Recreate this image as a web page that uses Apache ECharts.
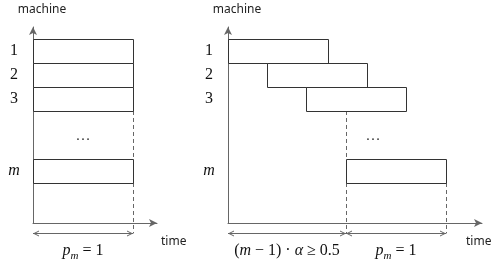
<!DOCTYPE html>
<html>
<head>
<meta charset="utf-8">
<title>schedule</title>
<script src="https://cdn.jsdelivr.net/npm/echarts@6/dist/echarts.min.js"></script>
<style>
  html, body { margin: 0; padding: 0; background: #fff; }
</style>
</head>
<body>
<div id="main" style="width: 491px;height:267px;"></div>
<script type="text/javascript">
// machines and lanes (row m sits at lane 0, rows 1..3 on top)
var machines = ['1', '2', '3', 'm'];
var lanes = [5, 4, 3, 0];
var jobLength = 1;
// start times of the job on each machine
var leftStart = [0, 0, 0, 0];
var rightStart = [0, 0.39, 0.78, 1.18];
// dashed guides: [x, yFrom, yTo]
var leftDash = [[1, 3, 1], [1, 0, -2.1]];
var rightDash = [[1.18, 3, 1], [1.18, 0, -2.1], [2.18, 0, -2.1]];
// double arrows below the time axis: [from, to]
var leftSpans = [[0, 1]];
var rightSpans = [[0, 1.18], [1.18, 2.18]];
var leftSpanText = ['{i|p}{s|m}{n| = 1}'];
var rightSpanText = ['{n|(}{i|m}{n| − 1) · }{i|α}{n| ≥ 0.5}', '{i|p}{s|m}{n| = 1}'];
var leftDots = [[0.5, 1.95]];
var rightDots = [[1.45, 1.95]];
var arrowY = -2.08;

var serif = 'Liberation Serif';
var richMath = {
    n: { fontFamily: serif, fontSize: 16, fill: '#111', padding: [0, 0, 5, 0] },
    i: { fontFamily: serif, fontSize: 16, fontStyle: 'italic', fill: '#111', padding: [0, 0, 5, 0] },
    s: { fontFamily: serif, fontSize: 11, fontStyle: 'italic', fill: '#111', padding: [5, 0, 0, 0] }
};
var richLabel = {
    n: { fontFamily: serif, fontSize: 16, fill: '#111' },
    i: { fontFamily: serif, fontSize: 16, fontStyle: 'italic', fill: '#111' }
};

function jobData(starts) {
    var d = [];
    for (var i = 0; i < starts.length; i++) {
        d.push([starts[i], lanes[i], starts[i] + jobLength]);
    }
    return d;
}

function renderJob(params, api) {
    var lane = api.value(1);
    var p0 = api.coord([api.value(0), lane + 1]);
    var p1 = api.coord([api.value(2), lane]);
    var lab = api.coord([0, lane + 0.5]);
    var name = machines[params.dataIndex];
    var x0 = Math.round(p0[0]) + 0.5, y0 = Math.round(p0[1]) + 0.5;
    var x1 = Math.round(p1[0]) + 0.5, y1 = Math.round(p1[1]) + 0.5;
    return {
        type: 'group',
        children: [{
            type: 'rect',
            shape: { x: x0, y: y0, width: x1 - x0, height: y1 - y0 },
            style: { fill: '#fff', stroke: '#333', lineWidth: 1 }
        }, {
            type: 'text',
            style: {
                text: name == 'm' ? '{i|m}' : '{n|' + name + '}',
                rich: richLabel,
                x: lab[0] - 19, y: lab[1],
                align: 'center', verticalAlign: 'middle'
            }
        }]
    };
}

function renderDash(params, api) {
    var a = api.coord([api.value(0), api.value(1)]);
    var b = api.coord([api.value(0), api.value(2)]);
    var x = Math.round(a[0]) + 0.5;
    return {
        type: 'line',
        shape: { x1: x, y1: a[1], x2: x, y2: b[1] },
        style: { stroke: '#666', lineWidth: 1, lineDash: [4, 3] }
    };
}

function makeSpanRenderer(texts) {
    return function (params, api) {
        var a = api.coord([api.value(0), arrowY]);
        var b = api.coord([api.value(1), arrowY]);
        var y = Math.round(a[1]) + 0.5;
        var h = 6, w = 2.5;
        var st = { stroke: '#666', lineWidth: 1, fill: null };
        return {
            type: 'group',
            children: [
                { type: 'line', shape: { x1: a[0], y1: y, x2: b[0], y2: y }, style: st },
                { type: 'polyline', shape: { points: [[a[0] + h, y - w], [a[0] + 1, y], [a[0] + h, y + w]] }, style: st },
                { type: 'polyline', shape: { points: [[b[0] - h, y - w], [b[0] - 1, y], [b[0] - h, y + w]] }, style: st },
                {
                    type: 'text',
                    style: {
                        text: texts[params.dataIndex], rich: richMath,
                        x: (a[0] + b[0]) / 2, y: y + 20,
                        align: 'center', verticalAlign: 'middle'
                    }
                }
            ]
        };
    };
}

function renderDots(params, api) {
    var p = api.coord([api.value(0), api.value(1)]);
    return {
        type: 'text',
        style: {
            text: '…', x: p[0], y: p[1],
            fontFamily: serif, fontSize: 15, fill: '#333',
            align: 'center', verticalAlign: 'middle'
        }
    };
}

var axisGray = '#666';
function xAxisFor(idx, max, gap) {
    return {
        type: 'value', gridIndex: idx, min: 0, max: max,
        name: 'time', nameLocation: 'end', nameGap: gap,
        nameTextStyle: { fontFamily: 'Noto Sans', fontSize: 12, color: '#222', padding: [13, 0, 0, 0], verticalAlign: 'top', align: 'left' },
        axisLine: { show: true, onZero: false, symbol: ['none', 'arrow'], symbolSize: [6, 8], lineStyle: { color: axisGray, width: 1 } },
        axisTick: { show: false }, axisLabel: { show: false }, splitLine: { show: false }
    };
}
function yAxisFor(idx) {
    return {
        type: 'value', gridIndex: idx, min: -1.667, max: 6.5,
        name: 'machine', nameLocation: 'end', nameGap: 11,
        nameTextStyle: { fontFamily: 'Noto Sans', fontSize: 12, color: '#222', padding: [0, 0, 0, 18], align: 'center' },
        axisLine: { show: true, onZero: false, symbol: ['none', 'arrow'], symbolSize: [6, 8], lineStyle: { color: axisGray, width: 1 } },
        axisTick: { show: false }, axisLabel: { show: false }, splitLine: { show: false }
    };
}

var myChart = echarts.init(document.getElementById('main'));
var option = {
    animation: false,
    grid: [
        { left: 33, top: 27, width: 124, height: 196, containLabel: false, outerBoundsMode: 'none' },
        { left: 228, top: 27, width: 254, height: 196, containLabel: false, outerBoundsMode: 'none' }
    ],
    xAxis: [xAxisFor(0, 1.24, 4), xAxisFor(1, 2.54, -16)],
    yAxis: [yAxisFor(0), yAxisFor(1)],
    series: [
        { type: 'custom', xAxisIndex: 0, yAxisIndex: 0, clip: false, renderItem: renderDash, data: leftDash, z: 1 },
        { type: 'custom', xAxisIndex: 1, yAxisIndex: 1, clip: false, renderItem: renderDash, data: rightDash, z: 1 },
        { type: 'custom', xAxisIndex: 0, yAxisIndex: 0, clip: false, renderItem: renderJob, data: jobData(leftStart), z: 2 },
        { type: 'custom', xAxisIndex: 1, yAxisIndex: 1, clip: false, renderItem: renderJob, data: jobData(rightStart), z: 2 },
        { type: 'custom', xAxisIndex: 0, yAxisIndex: 0, clip: false, renderItem: makeSpanRenderer(leftSpanText), data: leftSpans },
        { type: 'custom', xAxisIndex: 1, yAxisIndex: 1, clip: false, renderItem: makeSpanRenderer(rightSpanText), data: rightSpans },
        { type: 'custom', xAxisIndex: 0, yAxisIndex: 0, clip: false, renderItem: renderDots, data: leftDots },
        { type: 'custom', xAxisIndex: 1, yAxisIndex: 1, clip: false, renderItem: renderDots, data: rightDots }
    ]
};
myChart.setOption(option);
</script>
</body>
</html>
